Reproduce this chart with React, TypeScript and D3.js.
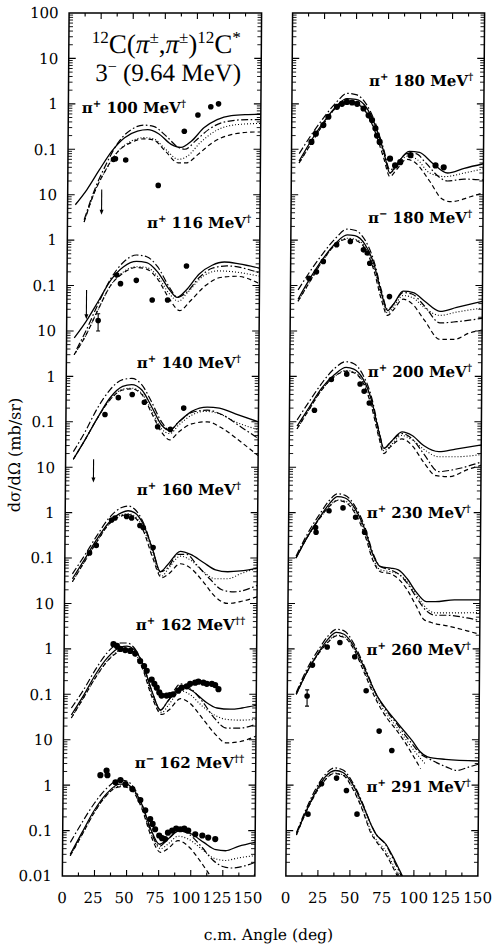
import React from "react";
import * as d3 from "d3";

type P = [number, number];
type Arrow = [number, number, number]; // angle, from value, to value
type Err = [number, number, number, number]; // angle, value, low, high

// ---------- Left column ----------
// pi+ 100 MeV
const l1Solid: P[] = [[6,0.006],[15,0.013],[24.5,0.035],[34,0.09],[44,0.18],[54,0.25],[62,0.27],[70.5,0.22],[80,0.13],[88,0.11],[96,0.15],[106,0.3],[116,0.45],[127,0.55],[140,0.58],[150,0.59]];
const l1DashDot: P[] = [[13,0.0028],[19.5,0.01],[29.5,0.045],[39,0.14],[49,0.27],[59,0.34],[66.5,0.32],[76,0.2],[86,0.11],[91,0.1],[100,0.16],[110,0.28],[122,0.4],[140,0.45],[150,0.45]];
const l1Dotted: P[] = [[13,0.0025],[19.5,0.009],[29.5,0.035],[39,0.09],[49,0.15],[59,0.18],[66.5,0.17],[76,0.1],[86,0.06],[93,0.07],[103,0.14],[115.5,0.26],[132,0.35],[150,0.37]];
const l1Dashed: P[] = [[13,0.0025],[19.5,0.009],[29.5,0.035],[39,0.09],[49,0.14],[59,0.17],[66.5,0.16],[76,0.09],[86,0.05],[92,0.05],[102,0.08],[112.5,0.14],[127,0.21],[145,0.24],[150,0.24]];
const l1Points: P[] = [[35.5,0.06],[37,0.062],[45,0.058],[70.5,0.016],[90.5,0.25],[101,0.57],[111,0.86],[117,1.0]];
const l1Arrows: Arrow[] = [[26.5,0.013,0.0036]];

// pi+ 116 MeV
const l2Solid: P[] = [[6,0.007],[15,0.016],[24.5,0.045],[34,0.13],[44,0.26],[54,0.34],[62,0.32],[70.5,0.2],[80,0.08],[86,0.055],[93,0.08],[103,0.18],[113,0.28],[122.5,0.33],[134,0.3],[150,0.24]];
const l2DashDot: P[] = [[8,0.004],[15,0.01],[24.5,0.04],[34,0.14],[44,0.33],[54,0.47],[62,0.43],[70.5,0.26],[80,0.09],[86,0.055],[93,0.07],[103,0.15],[113,0.24],[124.5,0.27],[150,0.19]];
const l2Dotted: P[] = [[6,0.003],[15,0.008],[24.5,0.03],[34,0.1],[44,0.2],[54,0.26],[62,0.25],[70.5,0.16],[80,0.065],[87,0.045],[94,0.07],[106,0.16],[117.5,0.21],[130,0.2],[150,0.16]];
const l2Dashed: P[] = [[6,0.003],[15,0.008],[24.5,0.03],[34,0.1],[44,0.19],[54,0.25],[62,0.23],[70.5,0.14],[80,0.05],[88,0.028],[96,0.045],[108,0.1],[119.5,0.15],[132,0.16],[150,0.11]];
const l2Points: P[] = [[38.7,0.17],[41.7,0.11],[54,0.13],[66.5,0.048],[78.5,0.048],[93,0.27]];
const l2Arrows: Arrow[] = [[15.3,0.08,0.018]];
const l2Errs: Err[] = [[24.5,0.017,0.01,0.024]];

// pi+ 140 MeV
const l3Solid: P[] = [[6,0.015],[15,0.04],[24.5,0.12],[34,0.33],[44,0.6],[51,0.66],[59,0.5],[66.5,0.22],[74.5,0.085],[81,0.065],[88,0.1],[98,0.17],[110,0.21],[119.5,0.2],[132,0.15],[150,0.1]];
const l3DashDot: P[] = [[6,0.022],[15,0.06],[24.5,0.2],[34,0.5],[44,0.85],[51,0.9],[59,0.65],[66.5,0.28],[74.5,0.1],[81,0.065],[88,0.1],[98,0.16],[110,0.18],[122.5,0.14],[137,0.075],[150,0.043]];
const l3Dotted: P[] = [[6,0.015],[15,0.04],[24.5,0.12],[34,0.3],[44,0.52],[51,0.55],[59,0.42],[66.5,0.18],[74.5,0.07],[81,0.055],[88,0.085],[98,0.14],[108,0.17],[119.5,0.15],[132,0.1],[150,0.067]];
const l3Dashed: P[] = [[6,0.015],[15,0.04],[24.5,0.12],[34,0.3],[44,0.5],[51,0.53],[59,0.4],[66.5,0.16],[74.5,0.06],[81,0.04],[88,0.06],[98,0.09],[110,0.1],[122.5,0.07],[137,0.035],[150,0.018]];
const l3Points: P[] = [[30.4,0.145],[40.7,0.34],[51.5,0.4],[61,0.27],[71.5,0.078],[81.4,0.068],[91.7,0.2]];
const l3Arrows: Arrow[] = [[21.8,0.015,0.0046]];

// pi+ 160 MeV
const l4Solid: P[] = [[6,0.035],[15,0.09],[24.5,0.25],[34,0.6],[44,1.0],[49,1.1],[54,1.0],[61,0.55],[68.5,0.15],[74.5,0.05],[80,0.07],[90,0.14],[98,0.12],[108,0.08],[117.5,0.055],[127,0.05],[137,0.052],[150,0.06]];
const l4DashDot: P[] = [[6,0.045],[15,0.11],[24.5,0.3],[34,0.75],[44,1.3],[49,1.4],[54,1.2],[61,0.6],[68.5,0.15],[74.5,0.05],[80,0.06],[88,0.12],[95,0.12],[103,0.07],[113,0.035],[122.5,0.02],[132,0.018],[150,0.025]];
const l4Dotted: P[] = [[6,0.03],[15,0.08],[24.5,0.22],[34,0.55],[44,0.9],[49,0.95],[54,0.85],[61,0.45],[68.5,0.12],[75.5,0.04],[81,0.06],[90,0.11],[98,0.09],[108,0.05],[117.5,0.035],[127,0.035],[137,0.045],[150,0.06]];
const l4Dashed: P[] = [[6,0.03],[15,0.08],[24.5,0.22],[34,0.55],[44,0.85],[49,0.9],[54,0.8],[61,0.4],[68.5,0.1],[75.5,0.037],[81,0.045],[90,0.075],[98,0.06],[108,0.03],[117.5,0.014],[127,0.01],[137,0.011],[150,0.014]];
const l4Points: P[] = [[19.2,0.13],[24.4,0.19],[36.2,0.69],[38.8,0.76],[47.9,0.82],[51.8,0.76],[58.3,0.52],[60.9,0.47],[68.7,0.17]];

// pi+ 162 MeV
const l5Solid: P[] = [[6,0.035],[15,0.09],[24.5,0.27],[34,0.65],[44,1.1],[49,1.15],[54,1.0],[61,0.5],[68.5,0.12],[75.5,0.045],[81,0.07],[92,0.15],[100,0.12],[110,0.07],[119.5,0.05],[130,0.047],[139,0.05],[150,0.057]];
const l5DashDot: P[] = [[6,0.05],[15,0.12],[24.5,0.35],[34,0.85],[44,1.35],[49,1.35],[54,1.1],[61,0.5],[68.5,0.12],[75.5,0.045],[81,0.07],[91,0.17],[98,0.14],[108,0.07],[117.5,0.03],[127,0.018],[137,0.018],[150,0.022]];
const l5Dotted: P[] = [[6,0.03],[15,0.08],[24.5,0.23],[34,0.55],[44,0.95],[49,1.0],[54,0.85],[61,0.42],[68.5,0.1],[76.5,0.04],[82,0.06],[91,0.12],[98,0.1],[108,0.055],[117.5,0.035],[127,0.028],[137,0.027],[150,0.028]];
const l5Dashed: P[] = [[6,0.03],[15,0.08],[24.5,0.23],[34,0.55],[44,0.9],[49,0.95],[54,0.8],[61,0.38],[68.5,0.09],[76.5,0.036],[82,0.045],[91,0.08],[98,0.065],[108,0.03],[117.5,0.014],[127,0.0085],[137,0.009],[150,0.012]];
const l5Points: P[] = [[38.4,1.27],[41.1,1.16],[43.7,1.0],[47.6,0.94],[51.5,0.9],[55.4,0.79],[59.3,0.54],[62.4,0.42],[64.5,0.33],[68.4,0.21],[70.5,0.17],[72.4,0.14],[74.4,0.11],[76.2,0.094],[80.1,0.094],[82.7,0.096],[85.3,0.1],[89.2,0.12],[91.9,0.14],[95.8,0.15],[98.4,0.17],[102.3,0.18],[104.8,0.19],[108.7,0.18],[111.4,0.17],[115.3,0.17],[117.9,0.16],[120.5,0.13]];

// pi- 162 MeV
const l6Solid: P[] = [[6,0.03],[15,0.09],[24.5,0.28],[34,0.65],[44,1.05],[49,1.05],[55,0.8],[62,0.35],[68.5,0.11],[75.5,0.05],[82,0.065],[91,0.1],[100,0.085],[110,0.055],[119.5,0.038],[127,0.036],[137,0.045],[150,0.055]];
const l6DashDot: P[] = [[6,0.055],[15,0.15],[24.5,0.4],[34,0.85],[44,1.3],[49,1.25],[55,0.9],[62,0.35],[68.5,0.1],[75.5,0.045],[81,0.06],[90,0.1],[98,0.085],[108,0.045],[117.5,0.022],[125.5,0.016],[132,0.015],[150,0.02]];
const l6Dotted: P[] = [[6,0.028],[15,0.08],[24.5,0.25],[34,0.6],[44,0.95],[49,0.95],[55,0.75],[62,0.3],[68.5,0.09],[76.5,0.04],[82,0.05],[90,0.075],[98,0.065],[108,0.04],[117.5,0.025],[127,0.022],[137,0.025],[150,0.028]];
const l6Dashed: P[] = [[6,0.028],[15,0.08],[24.5,0.25],[34,0.6],[44,0.92],[49,0.9],[55,0.7],[62,0.28],[68.5,0.08],[76.5,0.033],[82,0.04],[90,0.06],[98,0.045],[108,0.02],[115.5,0.01],[122.5,0.006],[130,0.005],[139,0.007],[150,0.011]];
const l6Points: P[] = [[29,1.66],[33.8,2.1],[34.5,1.66],[40.8,1.16],[44.7,1.3],[48.6,1.05],[54,0.82],[60.3,0.47],[64.2,0.28],[68.1,0.18],[70,0.14],[72,0.107],[75.2,0.078],[77.5,0.068],[79.8,0.065],[82,0.09],[85.3,0.1],[88.4,0.11],[91.6,0.107],[94.7,0.11],[97.8,0.1],[103.3,0.083],[108.8,0.078],[113.4,0.07],[118.9,0.065]];

// ---------- Right column ----------
// pi+ 180 MeV
const r1Solid: P[] = [[6,0.055],[15,0.15],[25,0.4],[35,0.9],[43,1.3],[50,1.25],[58,0.85],[65,0.35],[72,0.09],[77,0.03],[82,0.045],[92,0.09],[100,0.085],[110,0.05],[122,0.03],[135,0.038],[150,0.048]];
const r1DashDot: P[] = [[6,0.08],[15,0.2],[25,0.5],[35,1.1],[43,1.7],[50,1.6],[58,1.0],[65,0.4],[72,0.1],[77,0.035],[82,0.045],[90,0.08],[97,0.08],[105,0.05],[115,0.025],[122,0.02],[135,0.022],[150,0.021]];
const r1Dotted: P[] = [[6,0.05],[15,0.13],[25,0.37],[35,0.85],[43,1.1],[50,1.05],[58,0.7],[65,0.3],[72,0.08],[77,0.03],[82,0.04],[90,0.07],[98,0.06],[108,0.03],[120,0.025],[135,0.03],[150,0.037]];
const r1Dashed: P[] = [[6,0.05],[15,0.13],[25,0.37],[35,0.85],[43,1.05],[50,1.0],[58,0.65],[65,0.25],[72,0.065],[77,0.025],[82,0.035],[90,0.06],[97,0.05],[108,0.02],[118,0.008],[125,0.007],[140,0.009],[150,0.011]];
const r1Points: P[] = [[15.5,0.145],[18.9,0.22],[24.7,0.34],[28.6,0.52],[35.2,0.86],[39.1,1.0],[43,1.1],[47,1.07],[51,1.0],[56,0.79],[60,0.56],[62.7,0.44],[65.4,0.29],[66.7,0.2],[68.8,0.145],[77,0.062],[81,0.044],[85,0.052],[93,0.074],[112.6,0.044],[119,0.04]];

// pi- 180 MeV
const r2Solid: P[] = [[6,0.05],[15,0.14],[25,0.38],[35,0.85],[44,1.3],[50,1.25],[58,0.8],[65,0.3],[71,0.07],[76,0.028],[81,0.04],[88,0.075],[96,0.07],[105,0.045],[117,0.027],[130,0.033],[150,0.045]];
const r2DashDot: P[] = [[6,0.08],[15,0.2],[25,0.5],[35,1.1],[44,1.75],[50,1.65],[58,1.0],[65,0.35],[71,0.08],[76,0.03],[81,0.04],[88,0.07],[95,0.065],[105,0.035],[117,0.015],[130,0.016],[150,0.019]];
const r2Dotted: P[] = [[6,0.045],[15,0.12],[25,0.35],[35,0.8],[44,1.1],[50,1.05],[58,0.7],[65,0.25],[71,0.06],[76,0.025],[81,0.035],[88,0.06],[95,0.055],[105,0.032],[117,0.022],[130,0.026],[150,0.032]];
const r2Dashed: P[] = [[6,0.045],[15,0.12],[25,0.35],[35,0.8],[44,1.05],[50,1.0],[58,0.65],[65,0.22],[71,0.05],[76,0.022],[81,0.03],[88,0.05],[95,0.04],[105,0.017],[117,0.0065],[128,0.0065],[140,0.009],[150,0.0105]];
const r2Points: P[] = [[14.4,0.145],[20.2,0.2],[25.5,0.34],[35.8,0.79],[46.5,0.93],[56.8,0.61],[59.8,0.52],[61.8,0.31],[77.4,0.057]];

// pi+ 200 MeV
const r3Solid: P[] = [[6,0.08],[15,0.2],[25,0.55],[35,1.1],[44,1.58],[50,1.45],[57,0.9],[64,0.3],[70,0.06],[74,0.026],[79,0.035],[88,0.06],[96,0.05],[105,0.03],[117,0.022],[130,0.025],[150,0.031]];
const r3DashDot: P[] = [[6,0.11],[15,0.27],[25,0.7],[35,1.5],[43.5,2.1],[50,1.9],[57,1.1],[64,0.35],[70,0.065],[74,0.026],[79,0.035],[88,0.055],[96,0.042],[105,0.02],[117,0.008],[130,0.009],[150,0.013]];
const r3Dotted: P[] = [[6,0.07],[15,0.18],[25,0.5],[35,1.0],[44,1.35],[50,1.25],[57,0.8],[64,0.25],[70,0.05],[74,0.023],[79,0.03],[88,0.05],[96,0.04],[105,0.025],[117,0.017],[130,0.017],[150,0.019]];
const r3Dashed: P[] = [[6,0.07],[15,0.18],[25,0.5],[35,1.0],[44,1.3],[50,1.2],[57,0.75],[64,0.22],[70,0.045],[74,0.02],[79,0.028],[88,0.042],[96,0.03],[105,0.013],[115,0.0065],[125,0.0062],[140,0.009],[150,0.011]];
const r3Points: P[] = [[19.5,0.18],[32.5,0.85],[44.5,1.12],[55,0.68],[58.2,0.47],[62.3,0.26]];

// pi+ 230 MeV
const r4Solid: P[] = [[6,0.1],[15,0.3],[25,0.85],[32,1.6],[38,2.25],[44,2.1],[52,1.2],[60,0.4],[66,0.12],[72,0.065],[80,0.06],[86,0.055],[93,0.035],[100,0.018],[108,0.011],[115,0.011],[130,0.012],[150,0.012]];
const r4DashDot: P[] = [[6,0.11],[15,0.35],[25,1.0],[32,1.9],[38,2.6],[44,2.4],[52,1.35],[60,0.45],[66,0.13],[72,0.065],[80,0.055],[86,0.045],[93,0.028],[100,0.014],[108,0.007],[115,0.0055],[125,0.0055],[140,0.0048],[150,0.0042]];
const r4Dotted: P[] = [[6,0.1],[15,0.3],[25,0.8],[32,1.4],[38,1.9],[44,1.8],[52,1.05],[60,0.35],[66,0.1],[72,0.055],[80,0.05],[86,0.045],[93,0.03],[100,0.016],[108,0.008],[115,0.0062],[130,0.0062],[150,0.0063]];
const r4Dashed: P[] = [[6,0.1],[15,0.3],[25,0.8],[32,1.4],[38,1.85],[44,1.7],[52,0.95],[60,0.3],[66,0.09],[72,0.05],[80,0.045],[86,0.035],[93,0.02],[100,0.009],[106,0.0045],[112,0.0038],[125,0.0032],[140,0.0025],[150,0.0021]];
const r4Points: P[] = [[21.1,0.47],[21.5,0.37],[31.5,1.1],[42.4,1.27],[52.3,0.79],[59.4,0.37]];

// pi+ 260 MeV
const r5Solid: P[] = [[7,0.1],[15,0.3],[25,0.9],[32,1.7],[38,2.3],[44,2.1],[52,1.1],[60,0.38],[69.5,0.1],[78,0.045],[85,0.026],[92,0.015],[98,0.0094],[104,0.0055],[110,0.0042],[124,0.0037],[150,0.0034]];
const r5DashDot: P[] = [[7,0.11],[15,0.35],[25,1.05],[32,2.0],[38,2.7],[44,2.5],[52,1.25],[60,0.42],[69.5,0.1],[78,0.042],[85,0.024],[92,0.013],[98,0.008],[104,0.005],[112,0.0037],[125,0.0025],[133,0.0021],[142,0.0025],[150,0.0029]];
const r5Dotted: P[] = [[7,0.1],[15,0.3],[25,0.85],[32,1.5],[38,2.0],[44,1.85],[52,1.0],[60,0.33],[69.5,0.085],[78,0.036],[85,0.02],[92,0.011],[98,0.0065],[104,0.004],[108,0.003]];
const r5Dashed: P[] = [[7,0.1],[15,0.3],[25,0.85],[32,1.45],[38,1.93],[44,1.8],[52,0.95],[60,0.3],[69.5,0.075],[78,0.03],[85,0.017],[92,0.009],[97.8,0.0049],[104.6,0.0023]];
const r5Points: P[] = [[19.5,0.44],[30.9,1.1],[40.8,1.38],[52.5,0.67],[61.6,0.12],[72,0.0155],[82,0.0058]];
const r5Errs: Err[] = [[15.5,0.092,0.055,0.125]];

// pi+ 291 MeV
const r6Solid: P[] = [[8,0.085],[15,0.25],[22,0.65],[30,1.5],[38,2.1],[44,1.9],[52,1.0],[60,0.35],[66,0.14],[70,0.085],[78,0.05],[85,0.022],[91,0.01],[100,0.003]];
const r6DashDot: P[] = [[8,0.09],[15,0.28],[22,0.75],[30,1.7],[37.5,2.4],[44,2.15],[52,1.1],[60,0.37],[66,0.14],[70,0.085],[78,0.048],[85,0.02],[91,0.009],[100,0.003]];
const r6Dotted: P[] = [[8,0.08],[15,0.24],[22,0.6],[30,1.3],[37,1.85],[44,1.7],[52,0.85],[60,0.28],[66,0.1],[70,0.065],[78,0.035],[85,0.015],[90,0.008],[98,0.003]];
const r6Dashed: P[] = [[8,0.08],[15,0.24],[22,0.6],[30,1.3],[37,1.8],[44,1.65],[52,0.8],[60,0.26],[66,0.09],[70,0.06],[78,0.03],[85,0.013],[90,0.007],[98,0.0025]];
const r6Points: P[] = [[16.9,0.23],[27.3,1.07],[39,1.43],[46.8,0.76],[55.2,0.23]];

// ---------- Axis text ----------
const yTickText = ["100","10","1","0.1","10","1","0.1","10","1","0.1","10","1","0.1","10","1","0.1","10","1","0.1","0.01"];
const xTickValues = [0, 25, 50, 75, 100, 125, 150];
const panelSigns = ["+", "+", "+", "+", "+", "\u2212", "+", "\u2212", "+", "+", "+", "+"];
const panelEnergies = ["100", "116", "140", "160", "162", "162", "180", "180", "200", "230", "260", "291"];
const panelDaggers = ["\u2020", "\u2020", "\u2020", "\u2020", "\u2020\u2020", "\u2020\u2020", "\u2020", "\u2020", "\u2020", "\u2020", "\u2020", "\u2020"];

const panels = [
  { col: 0, k: 0, solid: l1Solid, dashdot: l1DashDot, dotted: l1Dotted, dashed: l1Dashed, points: l1Points, arrows: l1Arrows, errs: [] as Err[] },
  { col: 0, k: 1, solid: l2Solid, dashdot: l2DashDot, dotted: l2Dotted, dashed: l2Dashed, points: l2Points, arrows: l2Arrows, errs: l2Errs },
  { col: 0, k: 2, solid: l3Solid, dashdot: l3DashDot, dotted: l3Dotted, dashed: l3Dashed, points: l3Points, arrows: l3Arrows, errs: [] as Err[] },
  { col: 0, k: 3, solid: l4Solid, dashdot: l4DashDot, dotted: l4Dotted, dashed: l4Dashed, points: l4Points, arrows: [] as Arrow[], errs: [] as Err[] },
  { col: 0, k: 4, solid: l5Solid, dashdot: l5DashDot, dotted: l5Dotted, dashed: l5Dashed, points: l5Points, arrows: [] as Arrow[], errs: [] as Err[] },
  { col: 0, k: 5, solid: l6Solid, dashdot: l6DashDot, dotted: l6Dotted, dashed: l6Dashed, points: l6Points, arrows: [] as Arrow[], errs: [] as Err[] },
  { col: 1, k: 0, solid: r1Solid, dashdot: r1DashDot, dotted: r1Dotted, dashed: r1Dashed, points: r1Points, arrows: [] as Arrow[], errs: [] as Err[] },
  { col: 1, k: 1, solid: r2Solid, dashdot: r2DashDot, dotted: r2Dotted, dashed: r2Dashed, points: r2Points, arrows: [] as Arrow[], errs: [] as Err[] },
  { col: 1, k: 2, solid: r3Solid, dashdot: r3DashDot, dotted: r3Dotted, dashed: r3Dashed, points: r3Points, arrows: [] as Arrow[], errs: [] as Err[] },
  { col: 1, k: 3, solid: r4Solid, dashdot: r4DashDot, dotted: r4Dotted, dashed: r4Dashed, points: r4Points, arrows: [] as Arrow[], errs: [] as Err[] },
  { col: 1, k: 4, solid: r5Solid, dashdot: r5DashDot, dotted: r5Dotted, dashed: r5Dashed, points: r5Points, arrows: [] as Arrow[], errs: r5Errs },
  { col: 1, k: 5, solid: r6Solid, dashdot: r6DashDot, dotted: r6Dotted, dashed: r6Dashed, points: r6Points, arrows: [] as Arrow[], errs: [] as Err[] },
];

// label layout (x, baseline y, anchor)
const labelLayout: [number, number, "start" | "end"][] = [
  [79, 113, "start"], [145, 228, "start"], [136, 368, "start"], [137, 495, "start"], [137, 630, "start"], [137, 768, "start"],
  [366, 86, "start"], [366, 223, "start"], [367, 377, "start"], [367, 518, "start"], [368, 655, "start"], [369, 792, "start"],
];

const W = 492, H = 949;
const TOP = 13, BOTTOM = 876;
const COLS = [{ x0: 65.5, x1: 258 }, { x0: 289, x1: 481 }];
const SERIF = "'DejaVu Serif', serif";
const TITLE_FONT = "'Liberation Serif', serif";

const lineStyles: Record<string, { dash?: string; w: number }> = {
  solid: { w: 1.3 },
  dashdot: { dash: "7 2.5 1.6 2.5", w: 1.2 },
  dotted: { dash: "1 2", w: 1.1 },
  dashed: { dash: "4.5 3", w: 1.2 },
};

export default function App() {
  const y = d3.scaleLog().domain([1e-17, 100]).range([BOTTOM, TOP]);
  const xs = COLS.map((c) => d3.scaleLinear().domain([0, 150]).range([c.x0, c.x1]));
  const yv = (v: number, k: number) => y(v * Math.pow(10, -3 * k));

  const majors: number[] = d3.range(-16, 2).map((e) => Math.pow(10, e));
  const minors: number[] = [];
  for (let e = -17; e < 2; e++) for (let m = 2; m <= 9; m++) minors.push(m * Math.pow(10, e));
  const xTicks = d3.range(1, 12).map((i) => i * 12.5);

  return (
    <svg width={W} height={H} style={{ position: "absolute", left: 0, top: 0 }} xmlns="http://www.w3.org/2000/svg">
      <rect width={W} height={H} fill="#fff" />
      <defs>
        {COLS.map((c, i) => (
          <clipPath id={`clip${i}`} key={i}>
            <rect x={c.x0} y={TOP} width={c.x1 - c.x0} height={BOTTOM - TOP} />
          </clipPath>
        ))}
      </defs>
      <g transform="matrix(1,0,-0.0078,1,3.7,0)">
        {/* frames and ticks */}
        {COLS.map((c, i) => (
          <g key={`f${i}`} stroke="#000" fill="none">
            <rect x={c.x0} y={TOP} width={c.x1 - c.x0} height={BOTTOM - TOP} strokeWidth={1.5} />
            {majors.map((v, j) => (
              <g key={`M${j}`} strokeWidth={1.1}>
                <line x1={c.x0} x2={c.x0 + 7} y1={y(v)} y2={y(v)} />
                <line x1={c.x1} x2={c.x1 - 7} y1={y(v)} y2={y(v)} />
              </g>
            ))}
            {minors.map((v, j) => (
              <g key={`m${j}`} strokeWidth={0.9}>
                <line x1={c.x0} x2={c.x0 + 4} y1={y(v)} y2={y(v)} />
                <line x1={c.x1} x2={c.x1 - 4} y1={y(v)} y2={y(v)} />
              </g>
            ))}
            {xTicks.map((t, j) => {
              const len = t % 25 === 0 ? 6 : 3.5;
              const xx = xs[i](t);
              return (
                <g key={`x${j}`} strokeWidth={1.1}>
                  <line x1={xx} x2={xx} y1={TOP} y2={TOP + len} />
                  <line x1={xx} x2={xx} y1={BOTTOM} y2={BOTTOM - len} />
                </g>
              );
            })}
          </g>
        ))}

        {/* y tick labels */}
        {yTickText.map((t, i) => (
          <text key={`yt${i}`} x={55} y={y(Math.pow(10, 2 - i))} dy="0.36em" textAnchor="end" fontFamily={SERIF} fontSize={15}>
            {t}
          </text>
        ))}

        {/* x tick labels */}
        {xTickValues.map((v, i) => (
          <text key={`xl${i}`} x={xs[0](v) - v * 0.045} y={903} textAnchor="middle" fontFamily={SERIF} fontSize={15}>
            {v}
          </text>
        ))}
        {xTickValues.map((v, i) => (
          <text key={`xr${i}`} x={xs[1](v)} y={903} textAnchor="middle" fontFamily={SERIF} fontSize={15}>
            {v}
          </text>
        ))}

        {/* axis titles */}
        <text x={272} y={940} textAnchor="middle" fontFamily={SERIF} fontSize={15.5}>c.m. Angle (deg)</text>
        <text transform="translate(20,455) rotate(-90)" textAnchor="middle" fontFamily={SERIF} fontSize={16}>
          d{"\u03c3"}/d{"\u03a9"} (mb/sr)
        </text>

        {/* main title */}
        <text x={163} y={53} textAnchor="middle" fontFamily={TITLE_FONT} fontSize={27}>
          <tspan fontSize={17} dy={-10}>12</tspan>
          <tspan dy={10}>C(</tspan>
          <tspan fontStyle="italic">{"\u03c0"}</tspan>
          <tspan fontSize={17} dy={-10}>{"\u00b1"}</tspan>
          <tspan dy={10}>,</tspan>
          <tspan fontStyle="italic">{"\u03c0"}</tspan>
          <tspan fontSize={17} dy={-10}>{"\u00b1"}</tspan>
          <tspan dy={10}>)</tspan>
          <tspan fontSize={17} dy={-10}>12</tspan>
          <tspan dy={10}>C</tspan>
          <tspan fontSize={17} dy={-10}>*</tspan>
        </text>
        <text x={165} y={81} textAnchor="middle" fontFamily={TITLE_FONT} fontSize={25} style={{ whiteSpace: "pre" }}>
          <tspan>3</tspan>
          <tspan fontSize={16} dy={-9}>{"\u2212"}</tspan>
          <tspan dy={9}>{" (9.64 MeV)"}</tspan>
        </text>

        {/* panel labels */}
        {panels.map((p, i) => {
          const [lx, ly, anchor] = labelLayout[i];
          return (
            <text key={`lab${i}`} x={lx} y={ly} textAnchor={anchor} fontFamily={SERIF} fontWeight="bold" fontSize={15} style={{ whiteSpace: "pre" }}>
              <tspan>{"\u03c0"}</tspan>
              <tspan fontSize={10} dy={-6}>{panelSigns[i]}</tspan>
              <tspan dy={6}>{` ${panelEnergies[i]} MeV`}</tspan>
              <tspan fontSize={10} dy={-6}>{panelDaggers[i]}</tspan>
            </text>
          );
        })}

        {/* curves and data */}
        {panels.map((p, i) => {
          const x = xs[p.col];
          const gen = d3
            .line<P>()
            .x((d) => x(d[0]))
            .y((d) => yv(d[1], p.k))
            .curve(d3.curveMonotoneX);
          const series: [string, P[]][] = [
            ["dashed", p.dashed],
            ["dotted", p.dotted],
            ["dashdot", p.dashdot],
            ["solid", p.solid],
          ];
          const r = p.points.length > 20 ? 3.1 : 2.8;
          return (
            <g key={`p${i}`} clipPath={`url(#clip${p.col})`}>
              {series.map(([name, data]) => (
                <path
                  key={name}
                  d={gen(data) || ""}
                  fill="none"
                  stroke="#000"
                  strokeWidth={lineStyles[name].w}
                  strokeDasharray={lineStyles[name].dash}
                />
              ))}
              {p.points.map((d, j) => (
                <circle key={`c${j}`} cx={x(d[0])} cy={yv(d[1], p.k)} r={r} fill="#000" />
              ))}
              {p.errs.map((e, j) => (
                <g key={`e${j}`} stroke="#000" strokeWidth={1.1}>
                  <line x1={x(e[0])} x2={x(e[0])} y1={yv(e[2], p.k)} y2={yv(e[3], p.k)} />
                  <line x1={x(e[0]) - 2} x2={x(e[0]) + 2} y1={yv(e[2], p.k)} y2={yv(e[2], p.k)} />
                  <line x1={x(e[0]) - 2} x2={x(e[0]) + 2} y1={yv(e[3], p.k)} y2={yv(e[3], p.k)} />
                  <circle cx={x(e[0])} cy={yv(e[1], p.k)} r={2.8} fill="#000" stroke="none" />
                </g>
              ))}
              {p.arrows.map((a, j) => {
                const ax = x(a[0]);
                const y1 = yv(a[1], p.k);
                const y2 = yv(a[2], p.k);
                return (
                  <g key={`a${j}`}>
                    <line x1={ax} x2={ax} y1={y1} y2={y2 - 3} stroke="#000" strokeWidth={1.1} />
                    <path d={`M${ax - 2},${y2 - 5}L${ax + 2},${y2 - 5}L${ax},${y2}Z`} fill="#000" />
                  </g>
                );
              })}
            </g>
          );
        })}
      </g>
    </svg>
  );
}
